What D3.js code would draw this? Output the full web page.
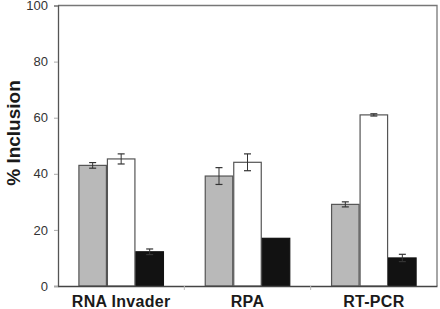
<!DOCTYPE html>
<html>
<head>
<meta charset="utf-8">
<script src="https://cdn.jsdelivr.net/npm/d3@7"></script>
<style>
  body { margin: 0; background: #fff; }
  svg { display: block; }
</style>
</head>
<body>
<div id="chart"></div>
<script>
// data
var categories = ["RNA Invader", "RPA", "RT-PCR"];
var grayValues  = [43.0, 39.2, 29.1];
var grayErr     = [1.0, 3.0, 0.9];
var whiteValues = [45.3, 44.1, 61.0];
var whiteErr    = [1.8, 3.0, 0.4];
var blackValues = [12.2, 17.0, 10.0];
var blackErr    = [1.0, 0, 1.3];
var yTicks = [0, 20, 40, 60, 80, 100];

var series = [
    {key: "gray",  values: grayValues,  err: grayErr,  fill: "#b9b9b9", stroke: "#555"},
    {key: "white", values: whiteValues, err: whiteErr, fill: "#ffffff", stroke: "#555"},
    {key: "black", values: blackValues, err: blackErr, fill: "#121212", stroke: "#121212"}
];

var width = 440, height = 309;
var margin = {left: 58, top: 5.5, right: 3, bottom: 23};

var svg = d3.select("#chart").append("svg")
    .attr("width", width)
    .attr("height", height);

var x0 = d3.scaleBand()
    .domain(categories)
    .range([margin.left, width - margin.right])
    .paddingInner(0.323)
    .paddingOuter(0.1615);

var x1 = d3.scaleBand()
    .domain(series.map(s => s.key))
    .range([0, x0.bandwidth()]);

var y = d3.scaleLinear()
    .domain([0, 100])
    .range([height - margin.bottom, margin.top]);

// frame (top and right)
svg.append("path")
    .attr("d", "M" + margin.left + "," + y(100) + "H" + (width - margin.right) + "V" + y(0))
    .attr("fill", "none")
    .attr("stroke", "#777")
    .attr("stroke-width", 1.3);

// bars
var groups = svg.selectAll(".grp")
    .data(categories)
    .enter().append("g")
    .attr("class", "grp")
    .attr("transform", d => "translate(" + x0(d) + ",0)");

series.forEach(function (s) {
    groups.append("rect")
        .attr("x", (d, i) => x1(s.key) + 0.5)
        .attr("y", (d, i) => y(s.values[i]))
        .attr("width", x1.bandwidth() - 1)
        .attr("height", (d, i) => y(0) - y(s.values[i]))
        .attr("fill", s.fill)
        .attr("stroke", s.stroke)
        .attr("stroke-width", 1.2);
});

// error bars
var capW = 3.5;
series.forEach(function (s) {
    groups.each(function (d, i) {
        if (!s.err[i]) return;
        var g = d3.select(this);
        var cx = x1(s.key) + x1.bandwidth() / 2;
        var hi = y(s.values[i] + s.err[i]), lo = y(s.values[i] - s.err[i]);
        g.append("line")
            .attr("x1", cx).attr("x2", cx)
            .attr("y1", hi).attr("y2", lo)
            .attr("stroke", "#333").attr("stroke-width", 1);
        [hi, lo].forEach(function (yy) {
            g.append("line")
                .attr("x1", cx - capW).attr("x2", cx + capW)
                .attr("y1", yy).attr("y2", yy)
                .attr("stroke", "#333").attr("stroke-width", 1.2);
        });
    });
});

// y axis
var yAxis = d3.axisLeft(y).tickValues(yTicks).tickSize(4).tickPadding(6);
var gy = svg.append("g")
    .attr("transform", "translate(" + margin.left + ",0)")
    .call(yAxis);
gy.select(".domain").attr("stroke", "#555").attr("stroke-width", 1.3);
gy.selectAll(".tick line").attr("stroke", "#aaa");
gy.selectAll(".tick text")
    .attr("fill", "#333")
    .style("font-family", "'Liberation Sans', Arial, sans-serif")
    .style("font-size", "13px");

// x axis
var xAxis = d3.axisBottom(x0).tickSize(0).tickPadding(10);
var gx = svg.append("g")
    .attr("transform", "translate(0," + y(0) + ")")
    .call(xAxis);
gx.select(".domain").attr("stroke", "#444").attr("stroke-width", 1.3);
gx.selectAll(".tick text")
    .attr("fill", "#1a1a1a")
    .style("font-family", "'Liberation Sans', Arial, sans-serif")
    .style("font-weight", "bold")
    .style("font-size", "16px")
    .style("letter-spacing", "0.3px");

// small separator ticks between categories
gx.selectAll(".sep")
    .data(categories.slice(1))
    .enter().append("line")
    .attr("class", "sep")
    .attr("x1", d => x0(d) - x0.step() * x0.paddingInner() / 2)
    .attr("x2", d => x0(d) - x0.step() * x0.paddingInner() / 2)
    .attr("y1", 0).attr("y2", 4)
    .attr("stroke", "#bbb");

// y label
svg.append("text")
    .attr("transform", "translate(20," + 133 + ") rotate(-90)")
    .attr("text-anchor", "middle")
    .attr("fill", "#1a1a1a")
    .style("font-family", "'Liberation Sans', Arial, sans-serif")
    .style("font-weight", "bold")
    .style("font-size", "19px")
    .text("% Inclusion");
</script>
</body>
</html>
